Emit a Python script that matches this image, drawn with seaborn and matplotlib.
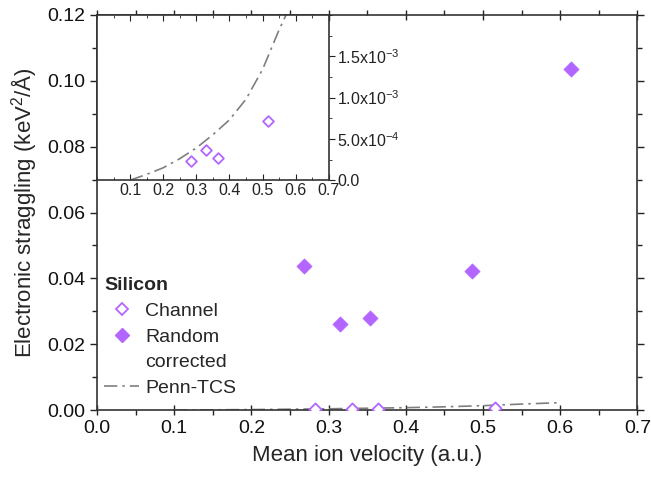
import numpy as np
import pandas as pd
import matplotlib.pyplot as plt
import seaborn as sns
from matplotlib.ticker import MultipleLocator, FixedLocator
from matplotlib.lines import Line2D

sns.set_style("ticks")
plt.rcParams['font.family'] = ['Liberation Sans', 'DejaVu Sans']
plt.rcParams['mathtext.fontset'] = 'custom'
plt.rcParams['mathtext.rm'] = 'Liberation Sans'

# data
channel_v = [0.283, 0.330, 0.364, 0.515]
channel_s = [0.00023, 0.00037, 0.00027, 0.00072]
random_v = [0.268, 0.315, 0.354, 0.486, 0.614]
random_s = [0.0437, 0.0262, 0.0281, 0.0423, 0.1036]
penn_v = [0.10, 0.15, 0.20, 0.25, 0.30, 0.35, 0.40, 0.45, 0.50, 0.55, 0.60]
penn_s = [0.0, 0.00007, 0.00015, 0.00026, 0.00039, 0.00055, 0.00073, 0.00098, 0.00134, 0.00182, 0.00225]

purple = '#b266ff'
grey = '#7f7f7f'
dash = (0, (8, 3, 1.5, 3))

df_ch = pd.DataFrame({'v': channel_v, 's': channel_s})
df_rd = pd.DataFrame({'v': random_v, 's': random_s})
df_pn = pd.DataFrame({'v': penn_v, 's': penn_s})

fig = plt.figure(figsize=(6.51, 4.83), dpi=100)
ax = fig.add_axes([0.149, 0.151, 0.830, 0.818])

def draw(a, ms_open, ms_fill):
    sns.lineplot(data=df_pn, x='v', y='s', ax=a, color=grey, lw=1.2,
                 linestyle=dash, legend=False)
    sns.scatterplot(data=df_ch, x='v', y='s', ax=a, marker='D', s=ms_open,
                    facecolor='white', edgecolor=purple, linewidth=1.3, zorder=5)
    if ms_fill:
        sns.scatterplot(data=df_rd, x='v', y='s', ax=a, marker='D', s=ms_fill,
                        color=purple, edgecolor=purple, linewidth=0.5, zorder=5)

draw(ax, 38, 60)
ax.set_xlim(0, 0.7)
ax.set_ylim(0, 0.12)
ax.xaxis.set_major_locator(MultipleLocator(0.1))
ax.xaxis.set_minor_locator(MultipleLocator(0.05))
ax.yaxis.set_major_locator(MultipleLocator(0.02))
ax.yaxis.set_minor_locator(MultipleLocator(0.01))
ax.xaxis.set_major_formatter(plt.FormatStrFormatter('%.1f'))
ax.yaxis.set_major_formatter(plt.FormatStrFormatter('%.2f'))
ax.tick_params(which='both', direction='out', labelsize=14, width=1, colors='#222222')
ax.tick_params(which='major', length=5)
ax.tick_params(which='minor', length=3.5)
ax.tick_params(axis='x', which='major', direction='inout', length=7)
ax.tick_params(which='both', top=True, right=True, labeltop=False, labelright=False)
for sp in ax.spines.values():
    sp.set_linewidth(1.2)
    sp.set_color('#333333')
ax.set_xlabel('Mean ion velocity (a.u.)', fontsize=16, labelpad=6)
ax.set_ylabel('Electronic straggling (keV$^2$/Å)', fontsize=16, labelpad=6)
for t in ax.get_xticklabels() + ax.get_yticklabels():
    t.set_color('#111111')

handles = [
    Line2D([], [], ls='none', marker='D', ms=6, mfc='white', mec=purple, mew=1.3),
    Line2D([], [], ls='none', marker='D', ms=7, mfc=purple, mec=purple),
    Line2D([], [], ls='none'),
    Line2D([], [], color=grey, lw=1.2, ls=dash),
]
leg = ax.legend(handles, ['Channel', 'Random', 'corrected', 'Penn-TCS'], title='Silicon',
                loc='lower left', bbox_to_anchor=(-0.012, -0.002), frameon=False,
                fontsize=14, title_fontsize=14, handlelength=1.8,
                handletextpad=0.3, labelspacing=0.42, borderaxespad=0.3)
leg.get_title().set_fontweight('bold')
leg._legend_box.sep = 6
leg._legend_box.align = 'left'

# inset
ins = fig.add_axes([0.149, 0.627, 0.356, 0.342])
draw(ins, 30, 0)
ins.set_xlim(0, 0.7)
ins.set_ylim(0, 0.002)
ins.xaxis.set_major_locator(FixedLocator([0.1, 0.2, 0.3, 0.4, 0.5, 0.6, 0.7]))
ins.xaxis.set_minor_locator(MultipleLocator(0.05))
ins.xaxis.set_major_formatter(plt.FormatStrFormatter('%.1f'))
ins.yaxis.set_major_locator(FixedLocator([0, 0.0005, 0.001, 0.0015]))
ins.yaxis.set_minor_locator(MultipleLocator(0.00025))
ins.set_yticklabels(['0.0', r'5.0x10$^{-4}$', r'1.0x10$^{-3}$', r'1.5x10$^{-3}$'])
ins.yaxis.tick_right()
ins.tick_params(which='both', direction='in', labelsize=11.5, left=False, top=True,
                right=True, pad=2, colors='#222222')
ins.tick_params(axis='y', which='both', direction='out')
ins.tick_params(which='major', length=4)
ins.tick_params(which='minor', length=2.5)
ins.set_xlabel('')
ins.set_ylabel('')
for sp in ins.spines.values():
    sp.set_linewidth(1.2)
    sp.set_color('#333333')

fig.savefig('out.png', dpi=100)
